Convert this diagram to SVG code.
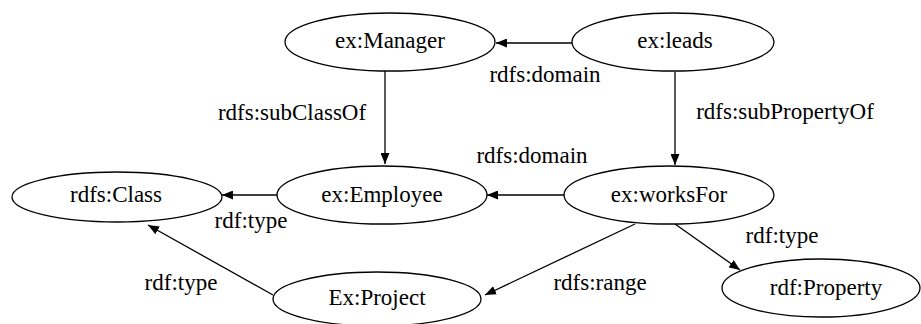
<svg xmlns="http://www.w3.org/2000/svg" width="921" height="324" viewBox="0 0 921 324" font-family="Liberation Serif, Times New Roman, serif" font-size="23" text-anchor="middle">
  <style>
    .node ellipse { fill: #ffffff; stroke: #000000; stroke-width: 1.3; }
    .edge { stroke: #000000; stroke-width: 1.3; fill: none; marker-end: url(#arrow); }
    text { font-family: "Liberation Serif", "Times New Roman", serif; font-size: 23px; fill: #000000; text-anchor: middle; }
  </style>
  <defs>
    <marker id="arrow" viewBox="0 0 11 9" refX="11" refY="4.5" markerWidth="11" markerHeight="9" markerUnits="userSpaceOnUse" orient="auto">
      <path d="M0,0 L11,4.5 L0,9 Z" fill="#000000"/>
    </marker>
  </defs>
  <rect width="921" height="324" fill="#ffffff"/>

  <!-- connectors and their labels -->
  <g id="edges">
    <line class="edge" x1="572" y1="43" x2="496" y2="43"/>
    <line class="edge" x1="385" y1="71" x2="385" y2="164"/>
    <line class="edge" x1="675" y1="72" x2="675" y2="165"/>
    <line class="edge" x1="564" y1="195" x2="487" y2="195"/>
    <line class="edge" x1="277" y1="195" x2="222" y2="195"/>
    <line class="edge" x1="273" y1="295" x2="148" y2="225"/>
    <line class="edge" x1="635" y1="224" x2="485" y2="295"/>
    <line class="edge" x1="675" y1="224" x2="740" y2="270"/>
    <text x="545" y="82">rdfs:domain</text>
    <text x="292" y="120">rdfs:subClassOf</text>
    <text x="785" y="119">rdfs:subPropertyOf</text>
    <text x="532" y="163">rdfs:domain</text>
    <text x="251" y="228">rdf:type</text>
    <text x="181" y="290">rdf:type</text>
    <text x="600" y="290">rdfs:range</text>
    <text x="782" y="243">rdf:type</text>
  </g>

  <g id="manager" class="node">
    <ellipse cx="390" cy="42" rx="105" ry="29"/>
    <text x="390" y="48">ex:Manager</text>
  </g>
  <g id="leads" class="node">
    <ellipse cx="673" cy="42" rx="101" ry="29"/>
    <text x="675" y="48">ex:leads</text>
  </g>
  <g id="employee" class="node">
    <ellipse cx="382" cy="195" rx="105" ry="29"/>
    <text x="382" y="202">ex:Employee</text>
  </g>
  <g id="worksFor" class="node">
    <ellipse cx="669" cy="195" rx="105" ry="29"/>
    <text x="669" y="202">ex:worksFor</text>
  </g>
  <g id="class" class="node">
    <ellipse cx="117" cy="197" rx="105" ry="25"/>
    <text x="116" y="202">rdfs:Class</text>
  </g>
  <g id="project" class="node">
    <ellipse cx="377" cy="299" rx="104" ry="27"/>
    <text x="377" y="305">Ex:Project</text>
  </g>
  <g id="property" class="node">
    <ellipse cx="821" cy="288" rx="99" ry="29"/>
    <text x="826" y="295">rdf:Property</text>
  </g>
</svg>
